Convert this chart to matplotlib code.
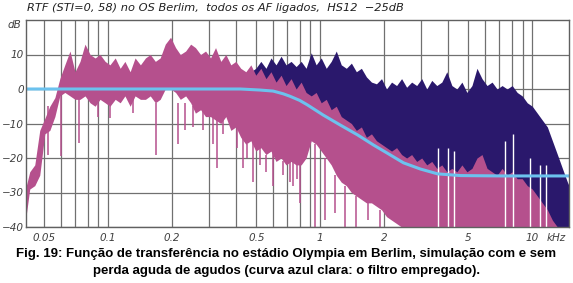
import matplotlib.pyplot as plt

# frequency grid (kHz) for the two spectra
freq = [0.0404, 0.0427, 0.0451, 0.0476, 0.0503, 0.0531, 0.0561, 0.0592, 0.0625, 0.0661,
        0.0698, 0.0737, 0.0778, 0.0822, 0.0868, 0.0916, 0.0968, 0.102, 0.108, 0.114,
        0.120, 0.127, 0.134, 0.142, 0.150, 0.158, 0.167, 0.176, 0.186, 0.197,
        0.208, 0.219, 0.232, 0.245, 0.258, 0.273, 0.288, 0.304, 0.321, 0.340,
        0.359, 0.379, 0.400, 0.422, 0.446, 0.471, 0.497, 0.525, 0.555, 0.586,
        0.619, 0.654, 0.690, 0.729, 0.770, 0.813, 0.858, 0.907, 0.957, 1.011,
        1.068, 1.127, 1.191, 1.257, 1.328, 1.403, 1.481, 1.564, 1.652, 1.745,
        1.842, 1.946, 2.055, 2.170, 2.292, 2.420, 2.556, 2.699, 2.851, 3.011,
        3.180, 3.358, 3.546, 3.745, 3.955, 4.177, 4.411, 4.658, 4.919, 5.195,
        5.487, 5.794, 6.119, 6.462, 6.825, 7.207, 7.611, 8.038, 8.489, 8.965,
        9.469, 10.00, 10.56, 11.15, 11.78, 12.44, 13.14, 13.87, 14.65]

# simulation with treble loss (magenta), upper / lower envelope in dB
loss_hi = [-30, -24, -22, -12, -8.5, -5, -2.5, 3, 7, 11,
           5, 8, 13, 10, 9, 10, 8, 7, 9, 6,
           8, 5, 9, 7, 9, 10, 8, 9, 13, 15,
           12, 10, 11, 13, 12, 10, 11, 9, 12, 8,
           10, 7, 8, 6, 5, 7, 4, 6, 3, 5,
           2, 4, 1, 3, 0, 2, -1, -2, -1, -4,
           -3, -6, -5, -8, -9, -10, -12, -11, -14, -13,
           -15, -16, -17, -18, -17, -19, -20, -19, -21, -20,
           -22, -21, -23, -22, -24, -23, -24, -22, -24, -23,
           -20, -19, -23, -24, -25, -23, -25, -24, -26, -26,
           -28, -29, -31, -33, -35, -38, -40, -40, -40]
loss_lo = [-40, -29, -28, -25, -13, -12, -8, -2, -1, -2,
           -3, -3, -2, -4, -5, -3, -4, -5, -3, -4,
           -2, -5, -2, -3, -3, -2, -4, -3, 0, 0,
           -1, -3, -2, -4, -7, -6, -8, -8, -9, -10,
           -8, -12, -11, -14, -16, -15, -18, -17, -19, -18,
           -21, -20, -22, -21, -22, -22, -20, -15, -16, -18,
           -20, -22, -25, -27, -28, -30, -31, -32, -33, -33,
           -34, -35, -37, -38, -39, -40, -40, -40, -40, -40,
           -40, -40, -40, -40, -40, -40, -40, -40, -40, -40,
           -40, -40, -40, -40, -40, -40, -40, -40, -40, -40,
           -40, -40, -40, -40, -40, -40, -40, -40, -40]

# simulation without treble loss (dark blue), visible from ~0.47 kHz
full_freq = freq[45:] + [14.9]
full_hi = [5, 6, 8, 6, 9, 7, 9.5, 7, 8, 6.5,
           8, 6, 10.5, 7, 9, 6, 8, 11, 7, 6,
           7.5, 5, 6, 3.5, 2, 1.5, 3, 0, 2, 1,
           3, 0.5, 2, 1, 3, 0, 2.5, 1, 2, 5,
           1, 0, 2, -1, 1, 6, 3, 1, 2, 0,
           1, 0, 1, -1, -2, -4, -5, -7, -9, -11,
           -15, -19, -23, -27, -28]
full_lo = [-12] * 18 + [-22] * 12 + [-40] * 35

# narrow downward spikes of the magenta curve
dip_freq = [0.0519, 0.0599, 0.0729, 0.0897, 0.1022, 0.1314, 0.1688, 0.2126, 0.2292, 0.2501,
            0.2790, 0.3111, 0.3249, 0.3470, 0.4043, 0.4315, 0.4508, 0.4815, 0.5197, 0.5548,
            0.5988, 0.6680, 0.7211, 0.7448, 0.7780, 0.8037, 0.9469, 1.056, 1.178, 1.314,
            1.481, 1.689, 1.924]
dip_top = [-5, -2, -3, -4, -5, -3, -4, -4, -4, -5,
           -6, -8, -9, -9, -11, -14, -16, -15, -17, -19,
           -18, -21, -21, -21, -22, -22, -16, -20, -25, -28,
           -31, -33, -35]
dip_bottom = [-19, -19.4, -15.6, -8, -8.5, -7, -19, -16, -12, -11,
              -12, -16, -23, -13, -17, -23, -20, -27, -22, -24,
              -28, -25, -27, -28, -26, -33, -40, -38, -36, -40,
              -40, -38, -40]

# white gaps under the dark blue curve
gap_freq = [3.585, 3.999, 4.269, 7.45, 8.13, 9.78, 10.91, 11.65]
gap_top = [-17, -17, -18, -15, -13, -20, -22, -22]

# high-frequency loss filter (light blue)
filter_freq = [0.041, 0.1, 0.2, 0.42, 0.52, 0.60, 0.67, 0.72, 0.80, 0.87,
               1.03, 1.24, 1.50, 1.78, 2.06, 2.47, 2.97, 3.58, 4.6, 7.2, 14.9]
filter_db = [0, 0, 0, 0, -0.3, -0.6, -1.4, -2.1, -3.3, -4.6,
             -7.5, -10.4, -13.3, -16.2, -18.5, -21.4, -23.2, -24.6, -25.1, -25.2, -25.2]

major_ticks = [0.05, 0.1, 0.2, 0.5, 1, 2, 5, 10]
major_labels = ['0.05', '0.1', '0.2', '0.5', '1', '2', '5', '10']
minor_ticks = [0.06, 0.07, 0.08, 0.09, 0.3, 0.4, 0.6, 0.7, 0.8, 0.9,
               3, 4, 6, 7, 8, 9]
y_ticks = [-40, -30, -20, -10, 0, 10]
y_labels = ['\u221240', '\u221230', '\u221220', '\u221210', '0', '10']

magenta = '#b5508d'
navy = '#2a186c'
light_blue = '#6cc2ee'
grid_gray = '#707070'

fig = plt.figure(figsize=(5.73, 2.83), dpi=100)
fig.patch.set_facecolor('white')
ax = fig.add_axes([26 / 573, 56 / 283, 543 / 573, 207 / 283])
ax.set_xscale('log')
ax.set_xlim(0.041, 14.9)
ax.set_ylim(-40, 20)

ax.set_xticks(major_ticks)
ax.set_xticklabels(major_labels)
ax.set_xticks(minor_ticks, minor=True)
ax.set_xticklabels([], minor=True)
ax.set_yticks(y_ticks)
ax.set_yticklabels(y_labels)
ax.tick_params(which='both', length=0, labelsize=7.5, labelcolor='#404040')
ax.tick_params(axis='x', pad=4)
ax.tick_params(axis='y', pad=1.5)
for lab in ax.get_xticklabels() + ax.get_yticklabels():
    lab.set_fontstyle('italic')

ax.set_axisbelow(True)
ax.grid(which='both', axis='x', color=grid_gray, lw=0.9)
ax.grid(which='major', axis='y', color=grid_gray, lw=0.9)
for s in ax.spines.values():
    s.set_color('#606060')
    s.set_linewidth(1)

ax.fill_between(full_freq, full_lo, full_hi, color=navy, lw=0)
ax.vlines(gap_freq, -40, gap_top, color='white', lw=1)
ax.fill_between(freq, loss_lo, loss_hi, color=magenta, lw=0)
ax.vlines(dip_freq, dip_bottom, dip_top, color=magenta, lw=1.1)
ax.plot(filter_freq, filter_db, color=light_blue, lw=2.2, solid_capstyle='butt')

ax.text(-0.008, 1.0, 'dB', transform=ax.transAxes, ha='right', va='top',
        fontsize=7.5, style='italic', color='#404040')
ax.text(13.0, -41.6, 'kHz', ha='center', va='top', fontsize=7.5,
        style='italic', color='#404040')

fig.text(27 / 573, 1 - 8 / 283,
         'RTF (STI=0, 58) no OS Berlim,  todos os AF ligados,  HS12  \u221225dB',
         ha='left', va='center', fontsize=8.2, style='italic', color='#202020')

fig.text(0.5, 1 - 254 / 283,
         'Fig. 19: Função de transferência no estádio Olympia em Berlim, simulação com e sem',
         ha='center', va='center', fontsize=9.5, fontweight='bold',
         family='Liberation Sans', color='black')
fig.text(0.5, 1 - 271 / 283,
         'perda aguda de agudos (curva azul clara: o filtro empregado).',
         ha='center', va='center', fontsize=9.5, fontweight='bold',
         family='Liberation Sans', color='black')

fig.savefig('out.png', dpi=100)
